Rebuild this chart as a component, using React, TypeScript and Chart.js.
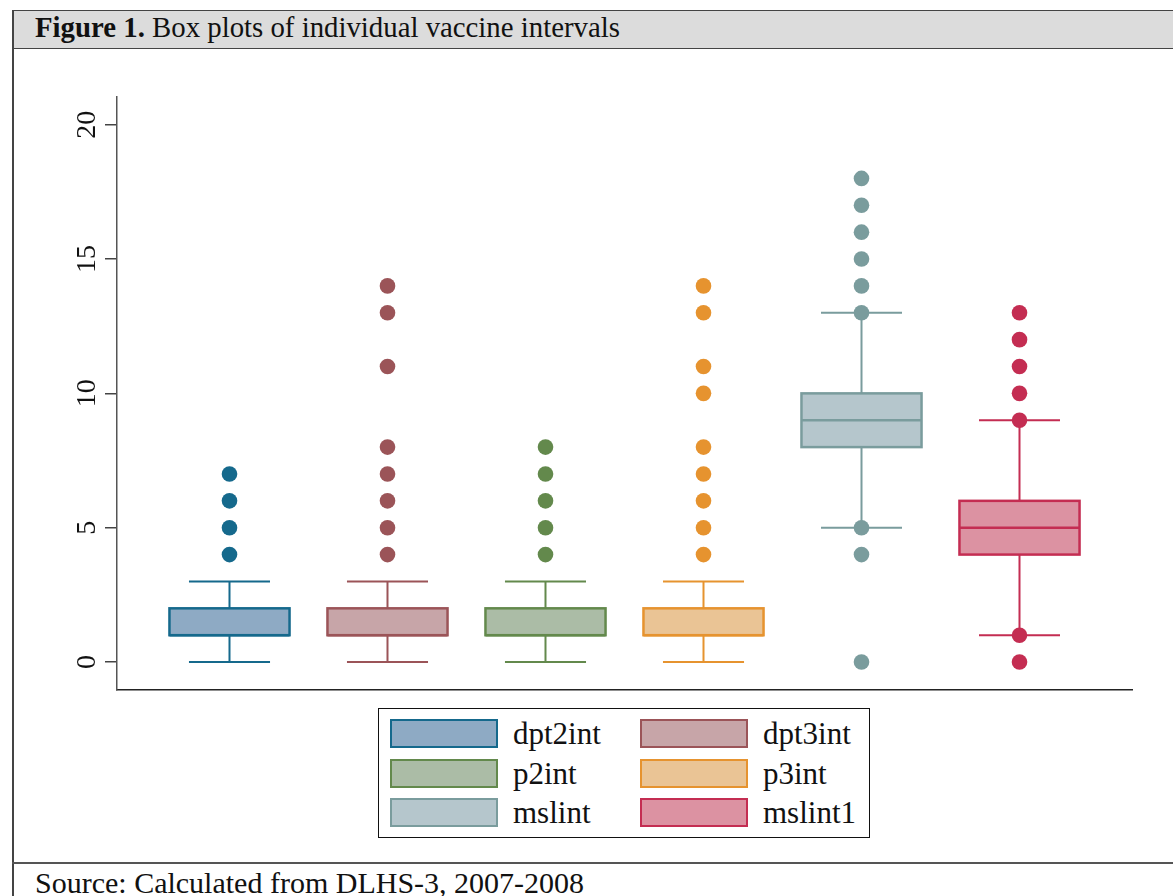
import React, { useEffect, useRef } from "react";
import { Chart, registerables } from "chart.js";

Chart.register(...registerables);

// ---- data ----
const categories = ["dpt2int", "dpt3int", "p2int", "p3int", "mslint", "mslint1"];
const q1Values = [1, 1, 1, 1, 8, 4];
const medianValues = [1, 1, 1, 1, 9, 5];
const q3Values = [2, 2, 2, 2, 10, 6];
const whiskerLow = [0, 0, 0, 0, 5, 1];
const whiskerHigh = [3, 3, 3, 3, 13, 9];
const outlierValues = [
  [4, 5, 6, 7],
  [4, 5, 6, 7, 8, 11, 13, 14],
  [4, 5, 6, 7, 8],
  [4, 5, 6, 7, 8, 10, 11, 13, 14],
  [0, 4, 5, 13, 14, 15, 16, 17, 18],
  [0, 1, 9, 10, 11, 12, 13],
];
const yTickValues = [0, 5, 10, 15, 20];

// ---- styles ----
const strokeColors = ["#15698c", "#9b5458", "#63894c", "#e6932f", "#7a9c9d", "#c42d52"];
const fillColors = ["#8eaac4", "#c7a5a8", "#abbca6", "#eac495", "#b5c6cc", "#dc92a2"];
const BOX_WIDTH = 0.76; // in category units
const CAP_WIDTH = 0.513;

const SERIF = '"Liberation Serif", "Times New Roman", serif';

const boxPlugin = {
  id: "boxes",
  beforeDatasetsDraw(chart: any) {
    const { ctx } = chart;
    const x = chart.scales.x;
    const y = chart.scales.y;
    ctx.save();
    categories.forEach((_, i) => {
      const cx = x.getPixelForValue(i + 1);
      const half = x.getPixelForValue(i + 1 + BOX_WIDTH / 2) - cx;
      const capHalf = x.getPixelForValue(i + 1 + CAP_WIDTH / 2) - cx;
      const pLow = y.getPixelForValue(whiskerLow[i]);
      const pHigh = y.getPixelForValue(whiskerHigh[i]);
      const pQ1 = y.getPixelForValue(q1Values[i]);
      const pQ3 = y.getPixelForValue(q3Values[i]);
      const pMed = y.getPixelForValue(medianValues[i]);
      ctx.strokeStyle = strokeColors[i];
      ctx.lineWidth = 2;
      ctx.lineCap = "butt";
      ctx.beginPath();
      ctx.moveTo(cx, pQ1);
      ctx.lineTo(cx, pLow);
      ctx.moveTo(cx - capHalf, pLow);
      ctx.lineTo(cx + capHalf, pLow);
      ctx.moveTo(cx, pQ3);
      ctx.lineTo(cx, pHigh);
      ctx.moveTo(cx - capHalf, pHigh);
      ctx.lineTo(cx + capHalf, pHigh);
      ctx.stroke();
      ctx.fillStyle = fillColors[i];
      ctx.fillRect(cx - half, pQ3, 2 * half, pQ1 - pQ3);
      ctx.lineWidth = 2.5;
      ctx.strokeRect(cx - half, pQ3, 2 * half, pQ1 - pQ3);
      ctx.beginPath();
      ctx.moveTo(cx - half, pMed);
      ctx.lineTo(cx + half, pMed);
      ctx.stroke();
    });
    ctx.restore();
  },
};

const yLabelPlugin = {
  id: "yLabels",
  afterDraw(chart: any) {
    const { ctx } = chart;
    const y = chart.scales.y;
    const left = chart.chartArea.left;
    ctx.save();
    ctx.font = `28px ${SERIF}`;
    ctx.fillStyle = "#111";
    ctx.textAlign = "center";
    ctx.textBaseline = "alphabetic";
    y.ticks.forEach((t: any) => {
      const py = y.getPixelForValue(t.value);
      ctx.save();
      ctx.translate(left - 22, py);
      ctx.rotate(-Math.PI / 2);
      ctx.fillText(String(t.value), 0, 0);
      ctx.restore();
    });
    ctx.restore();
  },
};

function BoxChart() {
  const ref = useRef<HTMLCanvasElement | null>(null);
  useEffect(() => {
    if (!ref.current) return;
    const datasets = categories.map((name, i) => ({
      label: name,
      data: outlierValues[i].map((v) => ({ x: i + 1, y: v })),
      backgroundColor: strokeColors[i],
      borderColor: strokeColors[i],
      borderWidth: 0,
      pointRadius: 7.8,
      pointHoverRadius: 7.8,
      showLine: false,
    }));
    const chart = new Chart(ref.current, {
      type: "scatter",
      data: { datasets },
      plugins: [boxPlugin, yLabelPlugin],
      options: {
        animation: false,
        responsive: false,
        devicePixelRatio: 1,
        events: [],
        layout: { padding: { left: 0, top: 97, right: 41, bottom: 206 } },
        plugins: { legend: { display: false }, tooltip: { enabled: false }, title: { display: false } },
        scales: {
          x: {
            type: "linear",
            min: 0.288,
            max: 6.712,
            ticks: { display: false },
            grid: { display: false },
            border: { display: true, color: "#222", width: 1.5 },
            afterFit: (s: any) => {
              s.height = 0;
            },
          },
          y: {
            type: "linear",
            position: "left",
            min: -1.04,
            max: 21.03,
            afterBuildTicks: (s: any) => {
              s.ticks = yTickValues.map((v) => ({ value: v }));
            },
            ticks: { display: false },
            grid: {
              display: true,
              drawOnChartArea: false,
              drawTicks: true,
              tickLength: 12,
              color: "#444",
              lineWidth: 1.5,
            },
            border: { display: true, color: "#555", width: 1.5 },
            afterFit: (s: any) => {
              s.width = 117;
            },
          },
        },
      } as any,
    });
    return () => chart.destroy();
  }, []);
  return (
    <canvas
      ref={ref}
      width={1173}
      height={896}
      style={{ position: "absolute", left: 0, top: 0, width: 1173, height: 896 }}
    />
  );
}

function Legend() {
  return (
    <div
      style={{
        position: "absolute",
        left: 378,
        top: 708,
        width: 492,
        height: 130,
        boxSizing: "border-box",
        border: "1px solid #111",
        background: "#fff",
      }}
    >
      {categories.map((name, i) => {
        const col = i % 2;
        const row = Math.floor(i / 2);
        return (
          <div
            key={name}
            style={{
              position: "absolute",
              left: 11 + col * 250,
              top: 10 + row * 39.5,
              height: 29,
              display: "flex",
              alignItems: "center",
            }}
          >
            <div
              style={{
                width: 108,
                height: 29,
                boxSizing: "border-box",
                border: `2.5px solid ${strokeColors[i]}`,
                background: fillColors[i],
              }}
            />
            <span
              style={{
                marginLeft: 15,
                fontFamily: SERIF,
                fontSize: 31,
                lineHeight: "29px",
                color: "#111",
                whiteSpace: "nowrap",
              }}
            >
              {name}
            </span>
          </div>
        );
      })}
    </div>
  );
}

export default function App() {
  useEffect(() => {
    document.body.style.margin = "0";
    document.body.style.overflow = "hidden";
  }, []);
  return (
    <div
      style={{
        position: "relative",
        width: 1173,
        height: 896,
        overflow: "hidden",
        background: "#fff",
        fontFamily: SERIF,
      }}
    >
      {/* title bar */}
      <div
        style={{
          position: "absolute",
          left: 12,
          top: 10,
          width: 1200,
          height: 39,
          boxSizing: "border-box",
          background: "#dcdcdc",
          borderTop: "1.5px solid #444",
          borderBottom: "1.5px solid #444",
        }}
      />
      <div
        style={{
          position: "absolute",
          left: 35,
          top: 13,
          fontSize: 28.8,
          lineHeight: 1,
          color: "#111",
          whiteSpace: "nowrap",
        }}
      >
        <b>Figure 1.</b> Box plots of individual vaccine intervals
      </div>
      {/* left frame border */}
      <div style={{ position: "absolute", left: 12, top: 10, width: 1.5, height: 900, background: "#444" }} />
      {/* bottom rule */}
      <div style={{ position: "absolute", left: 12, top: 862, width: 1200, height: 1.5, background: "#555" }} />
      <div
        style={{
          position: "absolute",
          left: 35,
          top: 868,
          fontSize: 30,
          lineHeight: 1,
          color: "#111",
          whiteSpace: "nowrap",
        }}
      >
        Source: Calculated from DLHS-3, 2007-2008
      </div>
      <BoxChart />
      <Legend />
    </div>
  );
}
